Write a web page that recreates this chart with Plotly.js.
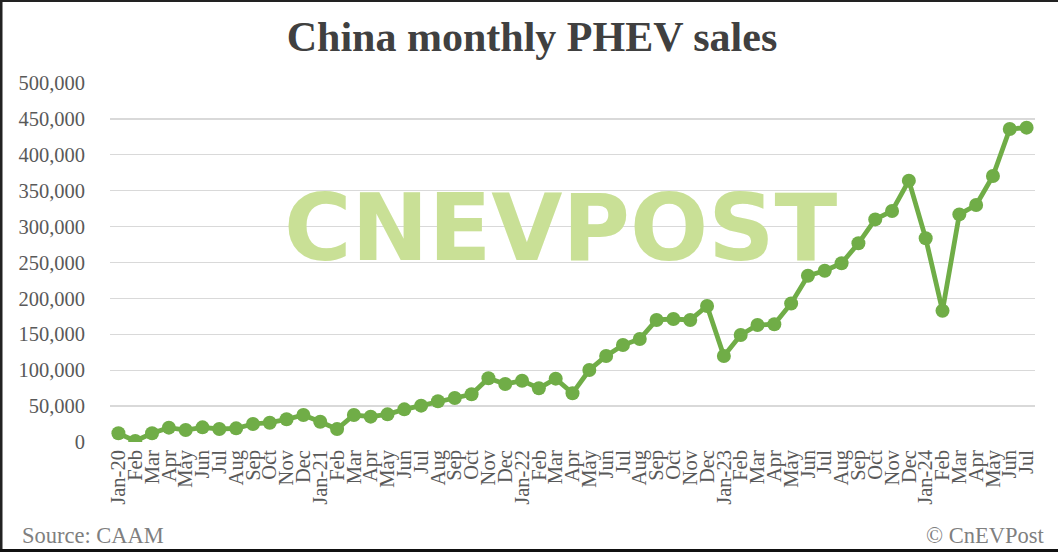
<!DOCTYPE html>
<html>
<head>
<meta charset="utf-8">
<script src="https://cdn.plot.ly/plotly-3.0.1.min.js"></script>
<style>
html,body{margin:0;padding:0;background:#fff;}
#chart{width:1058px;height:552px;}
</style>
</head>
<body>
<div id="chart"></div>
<script>
const monthLabels = [
  "Jan-20","Feb","Mar","Apr","May","Jun","Jul","Aug","Sep","Oct","Nov","Dec",
  "Jan-21","Feb","Mar","Apr","May","Jun","Jul","Aug","Sep","Oct","Nov","Dec",
  "Jan-22","Feb","Mar","Apr","May","Jun","Jul","Aug","Sep","Oct","Nov","Dec",
  "Jan-23","Feb","Mar","Apr","May","Jun","Jul","Aug","Sep","Oct","Nov","Dec",
  "Jan-24","Feb","Mar","Apr","May","Jun","Jul"
];
const phevSales = [
  12100, 1400, 12100, 20000, 16700, 20400, 18100, 19000, 25000, 26900, 31600, 37600,
  28300, 18000, 37600, 35300, 38500, 45500, 50600, 56700, 61300, 66400, 88700, 80800,
  85400, 74800, 88200, 67800, 100300, 119800, 135000, 143500, 170000, 171300, 170000, 189400,
  119800, 149000, 163000, 164000, 193000, 231600, 238600, 248900, 276800, 310000, 321700, 364000,
  283700, 182900, 317000, 330000, 370500, 436000, 437800
];
const yTickVals = [0,50000,100000,150000,200000,250000,300000,350000,400000,450000,500000];
const titleText = "China monthly PHEV sales";
const sourceText = "Source: CAAM";
const creditText = "© CnEVPost";
const watermarkText = "CNEVPOST";

const xIdx = monthLabels.map((_, i) => i);
const serif = "Liberation Serif, Times New Roman, serif";

// plot area in pixels: x 110..1035, y 83..442
const PL = 110, PR = 1035, PT = 83, PB = 442;
const px = v => (v - PL) / (PR - PL);
const py = v => (PB - v) / (PB - PT);

const trace = {
  x: xIdx,
  y: phevSales,
  type: "scatter",
  mode: "lines+markers",
  line: {color: "#70ad47", width: 4.8},
  marker: {color: "#70ad47", size: 14},
  hoverinfo: "skip"
};

const layout = {
  width: 1058,
  height: 552,
  margin: {l: PL, r: 1058 - PR, t: PT, b: 552 - PB},
  paper_bgcolor: "#ffffff",
  plot_bgcolor: "#ffffff",
  showlegend: false,
  title: {
    text: "<b>" + titleText + "</b>",
    font: {family: serif, size: 42, color: "#404040"},
    x: 532 / 1058, xref: "container", xanchor: "center",
    y: 1 - 36 / 552, yref: "container", yanchor: "middle"
  },
  xaxis: {
    range: [-0.5, 54.5],
    tickmode: "array",
    tickvals: xIdx,
    ticktext: monthLabels,
    tickangle: -90,
    tickfont: {family: serif, size: 20.5, color: "#595959"},
    showgrid: false,
    zeroline: false,
    showline: false,
    ticks: "",
    ticklabelstandoff: 3,
    fixedrange: true
  },
  yaxis: {
    range: [0, 500000],
    tickmode: "array",
    tickvals: yTickVals,
    tickformat: ",d",
    tickfont: {family: serif, size: 20.5, color: "#595959"},
    showgrid: true,
    gridcolor: "#d9d9d9",
    gridwidth: 1.3,
    zeroline: false,
    showline: false,
    ticks: "",
    ticklabelstandoff: 24,
    fixedrange: true
  },
  annotations: [
    {
      text: "<b>" + watermarkText + "</b>",
      xref: "paper", yref: "paper",
      x: px(560), y: py(228),
      xanchor: "center", yanchor: "middle",
      showarrow: false,
      font: {family: "DejaVu Sans", size: 92, color: "#c9e096"}
    },
    {
      text: sourceText,
      xref: "paper", yref: "paper",
      x: px(20), y: py(535),
      xanchor: "left", yanchor: "middle",
      showarrow: false,
      font: {family: serif, size: 22.5, color: "#7f7f7f"}
    },
    {
      text: creditText,
      xref: "paper", yref: "paper",
      x: px(1046), y: py(535),
      xanchor: "right", yanchor: "middle",
      showarrow: false,
      font: {family: serif, size: 22.5, color: "#7f7f7f"}
    }
  ],
  shapes: [
    {type: "line", xref: "paper", yref: "paper", x0: px(1), x1: px(1), y0: py(0), y1: py(552), line: {color: "#222", width: 3}},
    {type: "line", xref: "paper", yref: "paper", x0: px(0), x1: px(1058), y0: py(1), y1: py(1), line: {color: "#222", width: 2}},
    {type: "line", xref: "paper", yref: "paper", x0: px(0), x1: px(1058), y0: py(550.5), y1: py(550.5), line: {color: "#111", width: 3}}
  ]
};

Plotly.newPlot("chart", [trace], layout, {displayModeBar: false, staticPlot: true});
</script>
</body>
</html>
